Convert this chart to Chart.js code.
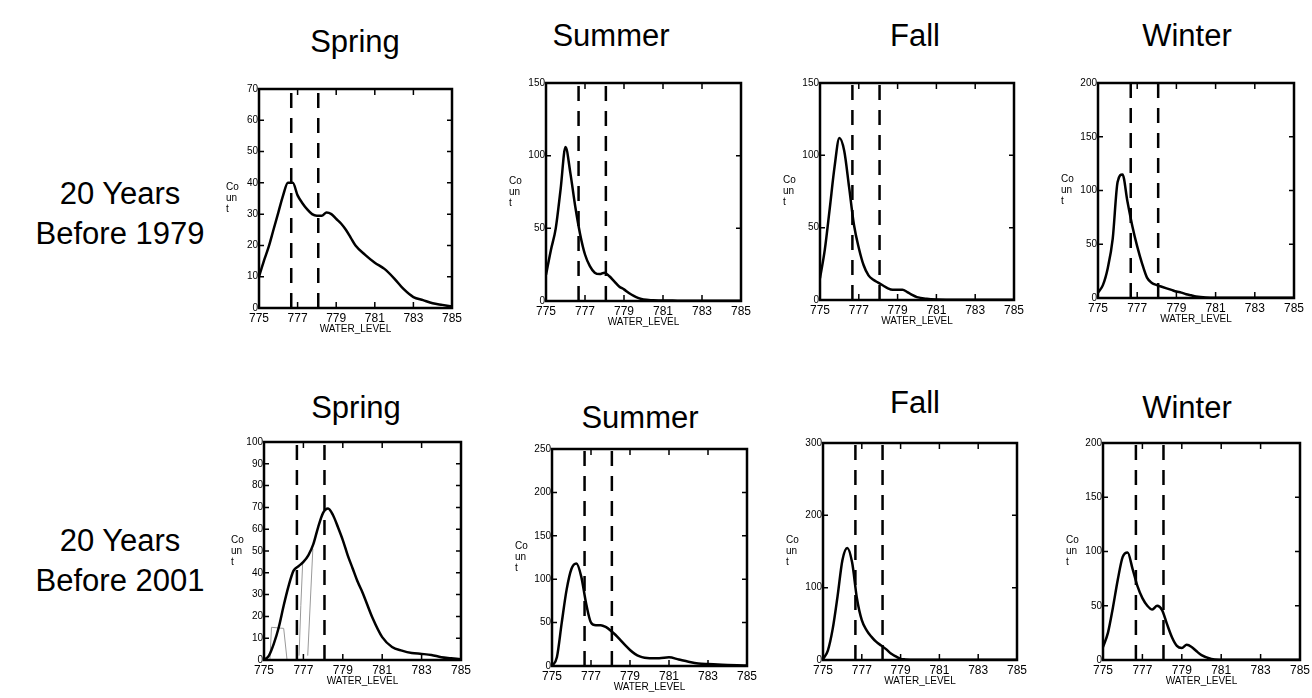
<!DOCTYPE html>
<html>
<head>
<meta charset="utf-8">
<script src="https://cdn.jsdelivr.net/npm/chart.js@4.4.0/dist/chart.umd.min.js"></script>
<style>
    body { margin: 0; width: 1312px; height: 698px; background: #fff; position: relative; overflow: hidden;
           font-family: "Liberation Sans", Arial, sans-serif; color: #000; }
    .title { position: absolute; font-size: 31px; transform: translateX(-50%); white-space: nowrap; }
    .rowlabel { position: absolute; font-size: 31px; text-align: center; width: 240px; line-height: 40px; }
    .ylab { position: absolute; font-size: 10px; line-height: 11px; }
    .panel { position: absolute; }
</style>
</head>
<body>

<div class="title" style="left:355px; top:24px;">Spring</div>
<div class="title" style="left:611px; top:18px;">Summer</div>
<div class="title" style="left:915px; top:18px;">Fall</div>
<div class="title" style="left:1187px; top:18px;">Winter</div>
<div class="title" style="left:356px; top:390px;">Spring</div>
<div class="title" style="left:640px; top:400px;">Summer</div>
<div class="title" style="left:915px; top:385px;">Fall</div>
<div class="title" style="left:1187px; top:390px;">Winter</div>

<div class="rowlabel" style="left:0px; top:174px;">20 Years<br>Before 1979</div>
<div class="rowlabel" style="left:0px; top:521px;">20 Years<br>Before 2001</div>

<script>
const waterLevels = [775, 775.25, 775.5, 775.75, 776, 776.25, 776.5, 776.75, 777, 777.25, 777.5, 777.75,
                     778, 778.25, 778.5, 778.75, 779, 779.25, 779.5, 779.75, 780, 780.5, 781, 781.5,
                     782, 782.5, 783, 783.5, 784, 784.5, 785];

// counts, 20 years before 1979
const spring1979 = [10, 15, 19.5, 25, 30.5, 36, 40, 40, 36, 33.5, 31.5, 30, 29.5, 29.5, 30.5, 30, 28.5, 27, 25, 22.5,
                    20, 17, 14.5, 12.5, 9.5, 6, 3.5, 2.5, 1.5, 1, 0.5];
const summer1979 = [18, 35, 50, 77, 106, 88, 65, 46, 32, 24, 19.5, 18.5, 19.5, 17, 13.5, 10, 8, 5.5, 3.5, 2,
                    1, 0.5, 0.3, 0.3, 0.2, 0.2, 0.2, 0.2, 0.2, 0.2, 0.2];
const fall1979   = [15, 35, 63, 92, 112, 103, 78, 52, 36, 24, 17, 14, 12, 10, 8, 7, 7, 7, 5.5, 3.5,
                    2, 0.8, 0.3, 0.2, 0.2, 0.2, 0.2, 0.2, 0.2, 0.2, 0.2];
const winter1979 = [5, 12, 28, 55, 108, 115, 90, 67, 48, 32, 19, 14, 12, 10.5, 9, 7.5, 6, 5, 3.5, 2.5,
                    1.5, 0.5, 0.2, 0.2, 0.2, 0.2, 0.2, 0.2, 0.2, 0.2, 0.2];

// counts, 20 years before 2001
const spring2001 = [0, 2, 7.5, 15, 25, 34, 41, 43, 45, 48, 53, 61, 67.5, 69.5, 66.5, 61, 55, 48, 42, 36,
                    31, 19.5, 10.5, 6, 4.3, 3.2, 2.8, 2.3, 1.3, 0.8, 0.3];
const summer2001 = [0, 10, 50, 88, 112, 118, 103, 72, 50, 47, 47, 45, 41, 36, 30, 24, 18.5, 14, 11, 9.5,
                    9, 9, 10, 7.5, 5, 3, 2.3, 1.8, 1.2, 0.8, 0.5];
const fall2001   = [1, 13, 43, 88, 138, 155, 135, 85, 55, 41, 32, 25, 20, 15, 9, 5, 1.5, 0.8, 0.5, 0.4,
                    0.3, 0.2, 0.2, 0.2, 0.2, 0.2, 0.2, 0.2, 0.2, 0.2, 0.2];
const winter2001 = [12, 25, 48, 74, 95, 99, 84, 68, 57, 50, 46.5, 50, 46, 33, 21, 13, 11, 14, 12, 8,
                    4.5, 1, 0.3, 0.2, 0.2, 0.2, 0.2, 0.2, 0.2, 0.2, 0.2];

// faint extra traces in the 2001 spring panel
const traceLevels = [775.3, 775.38, 776.0, 776.17, 776.5, 776.78, 776.87, 776.96, 777.05, 777.22, 777.48];
const traceCounts = [0, 15, 14.5, 0, null, 2, 25, 44, null, 2, 51];

const cutoffs = [776.67, 778.07];
const xTicks = [775, 777, 779, 781, 783, 785];

const yMaxes = [70, 150, 150, 200, 100, 250, 300, 200];
const ySteps = [10, 50, 50, 50, 10, 50, 100, 50];
const series = [spring1979, summer1979, fall1979, winter1979, spring2001, summer2001, fall2001, winter2001];

// plot boxes on the page: left, top, width, height
const boxes = [
    [259, 89, 193, 219],
    [546, 83, 195, 218],
    [820, 83, 194, 217],
    [1098, 83, 196, 215],
    [264, 442, 197, 218],
    [552, 449, 195, 217],
    [823, 443, 194, 217],
    [1103, 443, 197, 217]
];

const LEFT = 36, TOP = 8, RIGHT = 14, BOTTOM = 27;

// box frame and inward tick marks
const frame = {
    id: 'frame',
    afterDatasetsDraw(chart) {
        const ctx = chart.ctx;
        const a = chart.chartArea;
        const x = chart.scales.x, y = chart.scales.y;
        ctx.save();
        ctx.strokeStyle = '#000';
        ctx.lineWidth = 2.5;
        ctx.strokeRect(a.left, a.top, a.right - a.left, a.bottom - a.top);
        ctx.lineWidth = 1.5;
        ctx.beginPath();
        x.ticks.forEach(t => {
            const px = x.getPixelForValue(t.value);
            ctx.moveTo(px, a.bottom); ctx.lineTo(px, a.bottom - 6);
            ctx.moveTo(px, a.top); ctx.lineTo(px, a.top + 6);
        });
        y.ticks.forEach(t => {
            const py = y.getPixelForValue(t.value);
            ctx.moveTo(a.left, py); ctx.lineTo(a.left + 5, py);
            ctx.moveTo(a.right, py); ctx.lineTo(a.right - 5, py);
        });
        ctx.stroke();
        ctx.restore();
    }
};

series.forEach((vals, i) => {
    const [bl, bt, bw, bh] = boxes[i];

    const wrap = document.createElement('div');
    wrap.className = 'panel';
    wrap.style.left = (bl - LEFT) + 'px';
    wrap.style.top = (bt - TOP) + 'px';
    wrap.style.width = (bw + LEFT + RIGHT) + 'px';
    wrap.style.height = (bh + TOP + BOTTOM) + 'px';
    const canvas = document.createElement('canvas');
    wrap.appendChild(canvas);
    document.body.appendChild(wrap);

    const lab = document.createElement('div');
    lab.className = 'ylab';
    lab.innerHTML = 'Co<br>un<br>t';
    lab.style.left = (bl - (yMaxes[i] >= 100 && ySteps[i] > 10 ? 37 : 33)) + 'px';
    lab.style.top = (bt + bh * 0.42) + 'px';
    document.body.appendChild(lab);

    const datasets = [{
        data: waterLevels.map((w, k) => ({ x: w, y: vals[k] })),
        borderColor: '#000',
        borderWidth: 2.5,
        pointRadius: 0,
        cubicInterpolationMode: 'monotone'
    }];

    cutoffs.forEach(c => {
        datasets.push({
            data: [{ x: c, y: 0 }, { x: c, y: yMaxes[i] }],
            borderColor: '#000',
            borderWidth: 2.5,
            borderDash: [15, 10],
            pointRadius: 0
        });
    });

    if (i === 4) {
        datasets.push({
            data: traceLevels.map((w, k) => ({ x: w, y: traceCounts[k] })),
            borderColor: '#999',
            borderWidth: 1,
            pointRadius: 0,
            spanGaps: false
        });
    }

    new Chart(canvas, {
        type: 'line',
        data: { datasets: datasets },
        options: {
            responsive: true,
            maintainAspectRatio: false,
            animation: false,
            layout: { padding: { top: TOP, right: RIGHT } },
            plugins: { legend: { display: false }, tooltip: { enabled: false } },
            scales: {
                x: {
                    type: 'linear',
                    min: 775,
                    max: 785,
                    afterBuildTicks: scale => { scale.ticks = xTicks.map(v => ({ value: v })); },
                    afterFit: scale => { scale.height = BOTTOM; },
                    grid: { display: false, drawTicks: false },
                    border: { display: false },
                    ticks: { color: '#000', font: { size: 12, family: 'Liberation Sans' }, padding: 3, maxRotation: 0, autoSkip: false },
                    title: { display: true, text: 'WATER_LEVEL', color: '#000', font: { size: 10, family: 'Liberation Sans' }, padding: 0 }
                },
                y: {
                    min: 0,
                    max: yMaxes[i],
                    afterFit: scale => { scale.width = LEFT; },
                    grid: { display: false, drawTicks: false },
                    border: { display: false },
                    ticks: { stepSize: ySteps[i], color: '#000', font: { size: 10, family: 'Liberation Sans' }, padding: 1 }
                }
            }
        },
        plugins: [frame]
    });
});
</script>
</body>
</html>
